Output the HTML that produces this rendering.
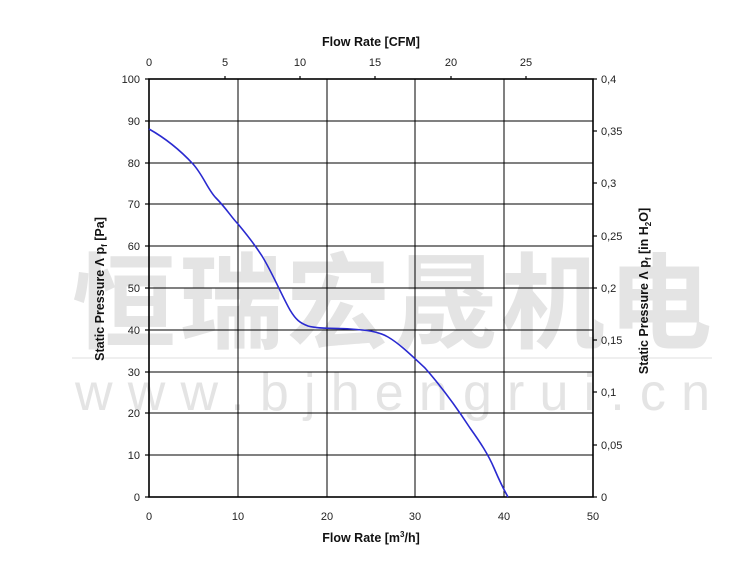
<!DOCTYPE html>
<html><head><meta charset="utf-8"><style>
body{margin:0;background:#fff;}
svg{display:block;font-family:"Liberation Sans",Arial,sans-serif;}
</style></head><body>
<svg width="750" height="571" viewBox="0 0 750 571">
<g fill="#e4e4e4" font-family="'Noto Sans CJK SC','WenQuanYi Zen Hei',sans-serif" font-weight="bold" font-size="104">
<text x="72" y="340" textLength="640" lengthAdjust="spacing">恒瑞宏晟机电</text>
</g>
<line x1="72" y1="358" x2="712" y2="358" stroke="#efefef" stroke-width="2"/>
<text x="75" y="410" fill="#e4e4e4" font-size="52" textLength="635" lengthAdjust="spacing">www.bjhengrui.cn</text>

<g stroke="#000" stroke-width="1">
<line x1="238" y1="79" x2="238" y2="497"/><line x1="327" y1="79" x2="327" y2="497"/>
<line x1="415" y1="79" x2="415" y2="497"/><line x1="504" y1="79" x2="504" y2="497"/>
<line x1="149" y1="121" x2="593" y2="121"/><line x1="149" y1="163" x2="593" y2="163"/>
<line x1="149" y1="204" x2="593" y2="204"/><line x1="149" y1="246" x2="593" y2="246"/>
<line x1="149" y1="288" x2="593" y2="288"/><line x1="149" y1="330" x2="593" y2="330"/>
<line x1="149" y1="372" x2="593" y2="372"/><line x1="149" y1="413" x2="593" y2="413"/>
<line x1="149" y1="455" x2="593" y2="455"/>
</g>
<rect x="149" y="79" width="444" height="418" fill="none" stroke="#000" stroke-width="1.6"/>
<g stroke="#000" stroke-width="1.2">
<line x1="145" y1="79" x2="149" y2="79"/><line x1="145" y1="121" x2="149" y2="121"/><line x1="145" y1="163" x2="149" y2="163"/><line x1="145" y1="204" x2="149" y2="204"/><line x1="145" y1="246" x2="149" y2="246"/><line x1="145" y1="288" x2="149" y2="288"/><line x1="145" y1="330" x2="149" y2="330"/><line x1="145" y1="372" x2="149" y2="372"/><line x1="145" y1="413" x2="149" y2="413"/><line x1="145" y1="455" x2="149" y2="455"/><line x1="145" y1="497" x2="149" y2="497"/>
<line x1="593" y1="79" x2="597" y2="79"/><line x1="593" y1="131" x2="597" y2="131"/><line x1="593" y1="183" x2="597" y2="183"/><line x1="593" y1="236" x2="597" y2="236"/><line x1="593" y1="288" x2="597" y2="288"/><line x1="593" y1="340" x2="597" y2="340"/><line x1="593" y1="392" x2="597" y2="392"/><line x1="593" y1="445" x2="597" y2="445"/><line x1="593" y1="497" x2="597" y2="497"/>
<line x1="225" y1="76" x2="225" y2="79"/><line x1="300" y1="76" x2="300" y2="79"/><line x1="375" y1="76" x2="375" y2="79"/><line x1="451" y1="76" x2="451" y2="79"/><line x1="526" y1="76" x2="526" y2="79"/>
</g>
<g font-size="11" fill="#222" text-anchor="end">
<text x="140" y="83">100</text><text x="140" y="125">90</text><text x="140" y="167">80</text><text x="140" y="208">70</text><text x="140" y="250">60</text><text x="140" y="292">50</text><text x="140" y="334">40</text><text x="140" y="376">30</text><text x="140" y="417">20</text><text x="140" y="459">10</text><text x="140" y="501">0</text>
</g>
<g font-size="11" fill="#222">
<text x="601" y="83">0,4</text><text x="601" y="135">0,35</text><text x="601" y="187">0,3</text><text x="601" y="240">0,25</text><text x="601" y="292">0,2</text><text x="601" y="344">0,15</text><text x="601" y="396">0,1</text><text x="601" y="449">0,05</text><text x="601" y="501">0</text>
</g>
<g font-size="11" fill="#222" text-anchor="middle">
<text x="149" y="520">0</text><text x="238" y="520">10</text><text x="327" y="520">20</text><text x="415" y="520">30</text><text x="504" y="520">40</text><text x="593" y="520">50</text>
<text x="149" y="66">0</text><text x="225" y="66">5</text><text x="300" y="66">10</text><text x="375" y="66">15</text><text x="451" y="66">20</text><text x="526" y="66">25</text>
</g>
<g font-size="12.5" font-weight="bold" fill="#111" text-anchor="middle">
<text x="371" y="46">Flow Rate [CFM]</text>
<text x="371" y="542">Flow Rate [m<tspan font-size="8" dy="-5">3</tspan><tspan dy="5">/h]</tspan></text>
<text transform="translate(104,289) rotate(-90)">Static Pressure Λ p<tspan font-size="8" dy="3">f</tspan><tspan dy="-3"> [Pa]</tspan></text>
<text transform="translate(648,291) rotate(-90)">Static Pressure Λ p<tspan font-size="8" dy="3">f</tspan><tspan dy="-3"> [in H</tspan><tspan font-size="8" dy="3">2</tspan><tspan dy="-3">O]</tspan></text>
</g>
<path d="M149,129 C165,138 180,150 193,164 C203,175 208,190 216,198 C226,208 232,218 238,224 C248,236 255,245 262,256 C272,272 282,296 290,310 C296,320 300,323 308,326 C318,329 335,328 350,329 C365,330 378,331 388,337 C400,344 412,356 425,368 C440,385 455,405 470,428 C480,442 488,454 494,468 C500,482 504,490 508,497" fill="none" stroke="#2a2ad0" stroke-width="1.6"/>
</svg>
</body></html>
